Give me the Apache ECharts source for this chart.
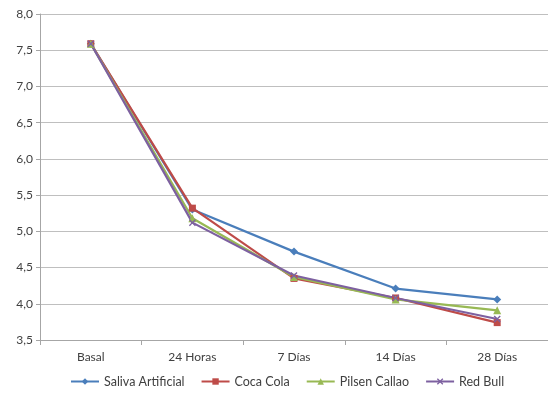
<!DOCTYPE html>
<html><head><meta charset="utf-8">
<script src="https://cdn.jsdelivr.net/npm/echarts@6/dist/echarts.min.js"></script>
<style>html,body{margin:0;padding:0;background:#fff}#c{width:548px;height:398px}</style>
</head><body><div id="c"></div>
<script>
const categories = ['Basal', '24 Horas', '7 Días', '14 Días', '28 Días'];
const salivaArtificial = [7.59, 5.30, 4.72, 4.21, 4.06];
const cocaCola = [7.59, 5.32, 4.35, 4.08, 3.74];
const pilsenCallao = [7.59, 5.18, 4.37, 4.06, 3.91];
const redBull = [7.59, 5.12, 4.39, 4.08, 3.79];
const yTicks = { min: 3.5, max: 8.0, interval: 0.5 };

const xPath = 'path://M0,1.4 L1.4,0 L5,3.6 L8.6,0 L10,1.4 L6.4,5 L10,8.6 L8.6,10 L5,6.4 L1.4,10 L0,8.6 L3.6,5 Z';
const font = 'Lato';
function mk(name, data, color, symbol, size) {
  return { name, type: 'line', data, symbol, symbolSize: size,
    lineStyle: { color, width: 2.2 }, itemStyle: { color },
    emphasis: { disabled: true } };
}
const chart = echarts.init(document.getElementById('c'), null, { renderer: 'canvas' });
chart.setOption({
  animation: false,
  textStyle: { fontFamily: font },
  grid: { left: 40, top: 14, width: 511, bottom: 58, containLabel: false },
  xAxis: { type: 'category', data: categories, boundaryGap: true,
    axisLine: { lineStyle: { color: '#A6A6A6' } },
    axisTick: { show: true, length: 5, lineStyle: { color: '#A6A6A6' } },
    axisLabel: { color: '#404040', fontSize: 12, margin: 11, fontFamily: font } },
  yAxis: { type: 'value', min: yTicks.min, max: yTicks.max, interval: yTicks.interval,
    axisLine: { show: true, lineStyle: { color: '#A6A6A6' } },
    axisTick: { show: true, length: 4, lineStyle: { color: '#A6A6A6' } },
    splitLine: { lineStyle: { color: '#BFBFBF' } },
    axisLabel: { color: '#404040', fontSize: 12, margin: 7, fontFamily: font,
      formatter: v => v.toFixed(1).replace('.', ',') } },
  legend: { bottom: 5, left: 65, itemWidth: 28, itemHeight: 8, itemGap: 16,
    textStyle: { color: '#404040', fontSize: 12.5, fontFamily: font },
    data: ['Saliva Artificial', 'Coca Cola', 'Pilsen Callao', 'Red Bull'] },
  series: [
    mk('Saliva Artificial', salivaArtificial, '#4A7EBB', 'diamond', 8),
    mk('Coca Cola', cocaCola, '#BE4B48', 'rect', 7),
    mk('Pilsen Callao', pilsenCallao, '#98B954', 'triangle', 8),
    mk('Red Bull', redBull, '#7D60A0', xPath, 7)
  ]
});
</script></body></html>
